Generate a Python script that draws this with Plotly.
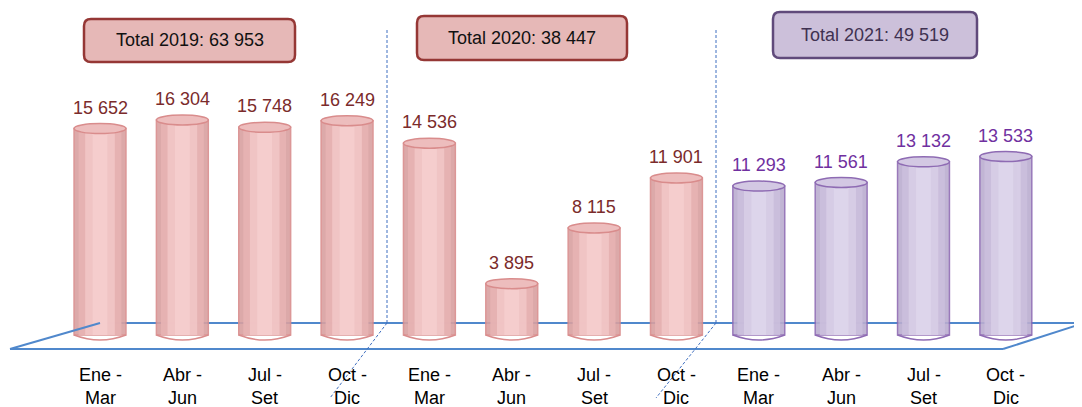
import plotly.graph_objects as go

# ---------------- data ----------------
cat_line1 = ["Ene -", "Abr -", "Jul -", "Oct -"] * 3
cat_line2 = ["Mar", "Jun", "Set", "Dic"] * 3
years = [2019] * 4 + [2020] * 4 + [2021] * 4
values = [15652, 16304, 15748, 16249,
          14536, 3895, 8115, 11901,
          11293, 11561, 13132, 13533]
value_labels = ["15 652", "16 304", "15 748", "16 249",
                "14 536", "3 895", "8 115", "11 901",
                "11 293", "11 561", "13 132", "13 533"]
total_labels = ["Total 2019: 63 953", "Total 2020: 38 447", "Total 2021: 49 519"]

# ---------------- geometry helpers ----------------
PAGE_W, PAGE_H = 1082, 407
OFF = 8                                # default body margin of the page
W, H = PAGE_W - OFF, PAGE_H - OFF      # figure size
X0PIX, XSTEP = 100.0, 82.35            # first bar centre, spacing (page px)
Y0PIX = 335.0                          # baseline (page px)
KPX = (Y0PIX - 120.0) / 16304.0        # px per unit
xr = [-(X0PIX - OFF) / XSTEP, (PAGE_W - X0PIX) / XSTEP]
yr = [-(PAGE_H - Y0PIX) / KPX, (Y0PIX - OFF) / KPX]
U = 1.0 / KPX                          # data units per px

def px(x):
    return (x - OFF) / W

def py(y):
    return 1 - (y - OFF) / H

FONT = "Liberation Sans, Arial, sans-serif"

xs = list(range(len(values)))
is21 = [y == 2021 for y in years]

red_edge = "#D98C8C"
pur_edge = "#8E6BB3"

fig = go.Figure()

# cylinder body: layered bars to mimic shading
layers_red = [(0.63, "#D9A0A0"), (0.52, "#E8B4B4"), (0.36, "#F2C6C6"), (0.18, "#F6CFCF")]
layers_pur = [(0.63, "#BBADD0"), (0.52, "#CBBFDD"), (0.36, "#D8CEE7"), (0.18, "#DED6EC")]
for li in range(4):
    colors = [(layers_pur if p else layers_red)[li][1] for p in is21]
    lines = [(pur_edge if p else red_edge) for p in is21]
    fig.add_trace(go.Bar(
        x=xs, y=values, width=layers_red[li][0],
        marker=dict(color=colors,
                    line=dict(color=lines if li == 0 else colors, width=1.5 if li == 0 else 0)),
        opacity=0.9, hoverinfo="skip", showlegend=False))

shapes = []
annotations = []

floor_col = "#5088CC"
def seg(x1, y1, x2, y2, color=floor_col, width=2, dash=None, layer="below"):
    shapes.append(dict(type="line", xref="paper", yref="paper",
                       x0=px(x1), y0=py(y1), x1=px(x2), y1=py(y2), layer=layer,
                       line=dict(color=color, width=width, dash=dash)))

# floor plane
seg(100, 323, PAGE_W + 2, 323)                 # back edge
seg(10, 349, 1003, 349, layer="above")         # front edge
seg(10, 349, 100, 323, layer="above")          # left edge
seg(1003, 349, PAGE_W + 2, 323, layer="above") # right edge

# dashed separators
sep_col = "#3F6FC0"
for xv, xb in [(387, 330), (716, 656)]:
    seg(xv, 30, xv, 323, color=sep_col, width=1, dash="3px,2px", layer="above")
    seg(xv, 323, xb, 398, color=sep_col, width=1, dash="3px,2px", layer="above")

# cylinder ellipses (top and bottom)
eh = 10 * U
hw = 0.315
for x, v, p in zip(xs, values, is21):
    edge = pur_edge if p else red_edge
    topfill = "#D3C8E3" if p else "#EDBDBD"
    shapes.append(dict(type="circle", xref="x", yref="y",
                       x0=x - hw, x1=x + hw, y0=v - eh / 2, y1=v + eh / 2,
                       fillcolor=topfill, line=dict(color=edge, width=1.5), layer="above"))
    shapes.append(dict(type="path", xref="x", yref="y",
                       path=f"M {x-hw},{0} Q {x},{-eh} {x+hw},{0}",
                       line=dict(color=edge, width=1.5), layer="above"))

# value labels
for x, v, t, p in zip(xs, values, value_labels, is21):
    annotations.append(dict(x=x, y=v, xref="x", yref="y", text=t, showarrow=False,
                            yshift=21, yanchor="middle",
                            font=dict(family=FONT, size=18,
                                      color="#7030A0" if p else "#7B2B2B")))

# category labels
for x, a, b in zip(xs, cat_line1, cat_line2):
    for txt, yy in [(a, 375), (b, 398)]:
        annotations.append(dict(x=x, y=py(yy), xref="x", yref="paper", text=txt, showarrow=False,
                                font=dict(family=FONT, size=18, color="#000000"),
                                xanchor="center", yanchor="middle"))

# total boxes (rounded rectangles)
def rrect(x1, y1, x2, y2, r=7):
    return (f"M {px(x1+r)},{py(y1)} L {px(x2-r)},{py(y1)} "
            f"Q {px(x2)},{py(y1)} {px(x2)},{py(y1+r)} L {px(x2)},{py(y2-r)} "
            f"Q {px(x2)},{py(y2)} {px(x2-r)},{py(y2)} L {px(x1+r)},{py(y2)} "
            f"Q {px(x1)},{py(y2)} {px(x1)},{py(y2-r)} L {px(x1)},{py(y1+r)} "
            f"Q {px(x1)},{py(y1)} {px(x1+r)},{py(y1)} Z")

boxes = [(84, 19, 295, 62, "#E6B8B7", "#953735", "#111111"),
         (417, 16, 627, 60, "#E6B8B7", "#953735", "#111111"),
         (773, 12, 977, 58, "#CCC0DA", "#604A7B", "#3F3151")]
for (x1, y1, x2, y2, fc, lc, tc), t in zip(boxes, total_labels):
    shapes.append(dict(type="path", xref="paper", yref="paper", path=rrect(x1, y1, x2, y2),
                       fillcolor=fc, line=dict(color=lc, width=2.5), layer="above"))
    annotations.append(dict(x=px((x1 + x2) / 2), y=py((y1 + y2) / 2), xref="paper", yref="paper",
                            text=t, showarrow=False, font=dict(family=FONT, size=18, color=tc),
                            xanchor="center", yanchor="middle"))

fig.update_layout(
    width=W, height=H,
    margin=dict(l=0, r=0, t=0, b=0),
    paper_bgcolor="white", plot_bgcolor="white",
    barmode="overlay",
    xaxis=dict(range=xr, visible=False, fixedrange=True),
    yaxis=dict(range=yr, visible=False, fixedrange=True),
    shapes=shapes, annotations=annotations,
    showlegend=False,
)

fig.write_html("out.html")
